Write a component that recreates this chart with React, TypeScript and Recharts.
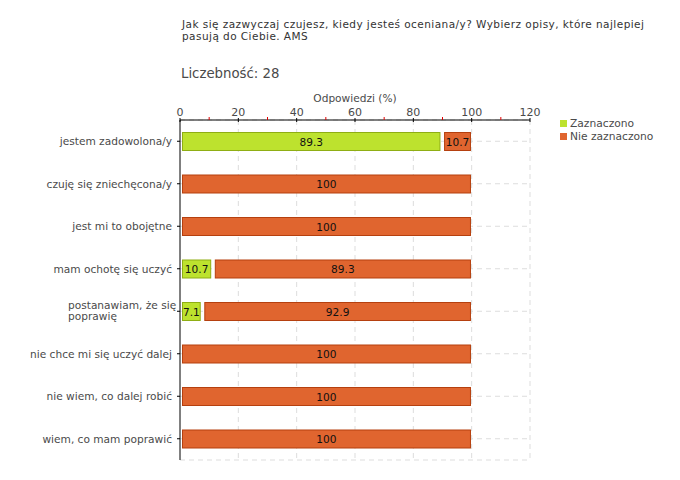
import React from "react";
import { BarChart, Bar, XAxis, YAxis, CartesianGrid } from "recharts";

const categories = [
  "jestem zadowolona/y",
  "czuję się zniechęcona/y",
  "jest mi to obojętne",
  "mam ochotę się uczyć",
  "postanawiam, że się poprawię",
  "nie chce mi się uczyć dalej",
  "nie wiem, co dalej robić",
  "wiem, co mam poprawić",
];
const zaznaczono = [89.3, 0, 0, 10.7, 7.1, 0, 0, 0];
const nieZaznaczono = [10.7, 100, 100, 89.3, 92.9, 100, 100, 100];
const xTicks = [0, 10, 20, 30, 40, 50, 60, 70, 80, 90, 100, 110, 120];
const majorTicks = [20, 40, 60, 80, 100, 120];
const seriesNames = ["Zaznaczono", "Nie zaznaczono"];
const titleLines = [
  "Jak się zazwyczaj czujesz, kiedy jesteś oceniana/y? Wybierz opisy, które najlepiej",
  "pasują do Ciebie. AMS",
];
const countLabel = "Liczebność: 28";
const axisTitle = "Odpowiedzi (%)";

const data = categories.map((c, i) => ({ name: c, z: zaznaczono[i], n: nieZaznaczono[i] }));

const FONT = "DejaVu Sans";
const TEXT = "#4a4a4a";
const GREEN = "#bde22e";
const GREEN_STROKE = "#8fae14";
const ORANGE = "#e0652f";
const ORANGE_STROKE = "#b5400f";

function segment(props: any, fill: string, stroke: string, inset: number, key: string) {
  const { x, y, width, height, payload } = props;
  const v = payload[key];
  if (!v) return <g />;
  const rx = x + inset;
  const rw = Math.max(0, width - inset - (key === "n" ? 0.7 : 0));
  return (
    <g>
      <rect x={rx + 0.5} y={y + 0.5} width={rw - 1} height={height - 1} fill={fill} stroke={stroke} strokeWidth={1} />
      <text x={rx + rw / 2} y={y + height / 2} textAnchor="middle" dominantBaseline="central" fontFamily={FONT} fontSize={10.6} fill="#111">
        {String(v)}
      </text>
    </g>
  );
}

const GreenShape = (p: any) => segment(p, GREEN, GREEN_STROKE, 2, "z");
const OrangeShape = (p: any) => segment(p, ORANGE, ORANGE_STROKE, p.payload.z > 0 ? 3.6 : 2, "n");

const XTick = (props: any) => {
  const { x, y, payload } = props;
  const v = payload.value;
  const major = v % 20 === 0;
  return (
    <g>
      {major ? (
        <line x1={x} x2={x} y1={y - 2} y2={y + 2} stroke="#000" />
      ) : (
        <line x1={x} x2={x} y1={y - 3} y2={y} stroke="#e00000" />
      )}
      {major || v === 0 ? (
        <text x={x} y={y - 4} textAnchor="middle" fontFamily={FONT} fontSize={11} fill={TEXT}>
          {v}
        </text>
      ) : null}
    </g>
  );
};

function wrap(label: string): string[] {
  if (label.length <= 27) return [label];
  const words = label.split(" ");
  const lines: string[] = [];
  let cur = "";
  for (const w of words) {
    const t = cur ? cur + " " + w : w;
    if (t.length > 20 && cur) {
      lines.push(cur);
      cur = w;
    } else cur = t;
  }
  if (cur) lines.push(cur);
  return lines;
}

const YTick = (props: any) => {
  const { x, y, payload } = props;
  const lines = wrap(payload.value);
  return (
    <g>
      <line x1={x - 3} x2={x} y1={y} y2={y} stroke="#000" />
      {lines.length === 1 ? (
        <text x={x - 8} y={y} textAnchor="end" dominantBaseline="central" fontFamily={FONT} fontSize={10.6} fill={TEXT}>
          {lines[0]}
        </text>
      ) : (
        lines.map((l, i) => (
          <text key={i} x={x - 112} y={y - 6 + i * 11} textAnchor="start" dominantBaseline="central" fontFamily={FONT} fontSize={10.6} fill={TEXT}>
            {l}
          </text>
        ))
      )}
    </g>
  );
};

export default function App() {
  return (
    <div style={{ position: "absolute", left: 0, top: 0, width: 680, height: 480, background: "#fff" }}>
      <div style={{ position: "absolute", left: 182, top: 19, fontFamily: FONT, fontSize: 10.5, letterSpacing: 0.45, lineHeight: "11.5px", color: "#333", whiteSpace: "nowrap" }}>
        {titleLines.map((l, i) => (
          <div key={i}>{l}</div>
        ))}
      </div>
      <div style={{ position: "absolute", left: 181, top: 66, fontFamily: FONT, fontSize: 13.3, color: TEXT, whiteSpace: "nowrap" }}>
        {countLabel}
      </div>
      <div style={{ position: "absolute", left: 0, top: 0 }}>
        <BarChart
          width={680}
          height={480}
          data={data}
          layout="vertical"
          margin={{ top: 90, right: 150, bottom: 20, left: 0 }}
          barSize={19}
        >
          <CartesianGrid stroke="#dddddd" strokeDasharray="5 4" verticalValues={majorTicks} />
          <XAxis
            type="number"
            orientation="top"
            domain={[0, 120]}
            ticks={xTicks}
            interval={0}
            height={30}
            tickSize={0}
            tickMargin={0}
            tickLine={false}
            axisLine={{ stroke: "#000" }}
            tick={XTick}
            label={{ value: axisTitle, position: "insideTop", offset: 4, fontFamily: FONT, fontSize: 10.6, fill: TEXT }}
          />
          <YAxis
            type="category"
            dataKey="name"
            width={180}
            tickSize={0}
            tickMargin={0}
            tickLine={false}
            axisLine={{ stroke: "#000" }}
            tick={YTick}
            interval={0}
          />
          <Bar dataKey="z" stackId="a" name={seriesNames[0]} fill={GREEN} shape={GreenShape} isAnimationActive={false} />
          <Bar dataKey="n" stackId="a" name={seriesNames[1]} fill={ORANGE} shape={OrangeShape} isAnimationActive={false} />
        </BarChart>
      </div>
      <div style={{ position: "absolute", left: 560, top: 117, fontFamily: FONT, fontSize: 10.7, color: TEXT, lineHeight: "13px" }}>
        {seriesNames.map((n, i) => (
          <div key={i} style={{ display: "flex", alignItems: "center", whiteSpace: "nowrap" }}>
            <span style={{ display: "inline-block", width: 7, height: 7, background: i === 0 ? GREEN : ORANGE, marginRight: 3 }} />
            {n}
          </div>
        ))}
      </div>
    </div>
  );
}
